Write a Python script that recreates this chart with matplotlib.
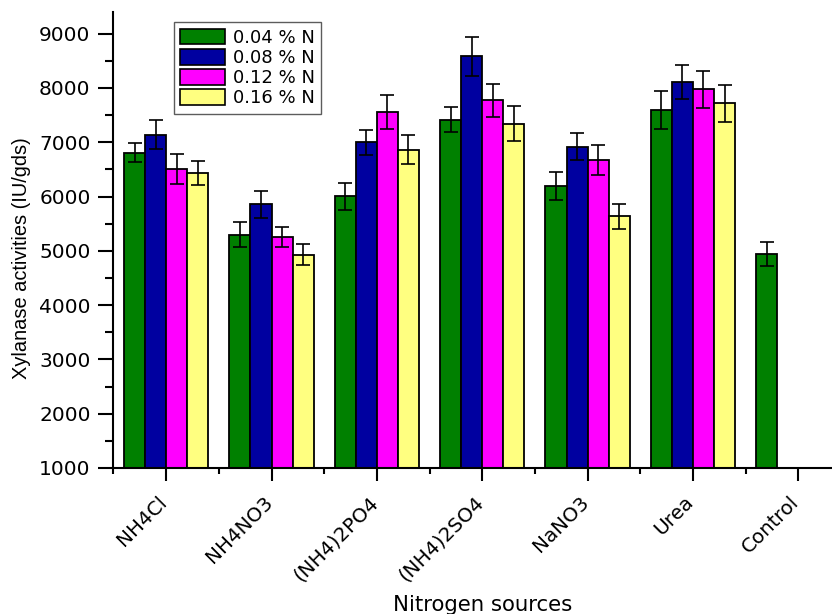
import numpy as np
import matplotlib
matplotlib.use("Agg")
import matplotlib.pyplot as plt
import matplotlib.transforms as mtransforms
from matplotlib.patches import Patch

plt.rcParams['font.family'] = ['Liberation Sans', 'DejaVu Sans']

sources = ["NH4Cl", "NH4NO3", "(NH4)2PO4", "(NH4)2SO4", "NaNO3", "Urea", "Control"]
series_labels = ["0.04 % N", "0.08 % N", "0.12 % N", "0.16 % N"]

# xylanase activity (IU/gds) per nitrogen level; Control only has one value
n004 = [6810, 5300, 6005, 7415, 6186, 7592, 4945]
n008 = [7138, 5854, 6997, 8582, 6917, 8115]
n012 = [6512, 5258, 7549, 7771, 6677, 7973]
n016 = [6438, 4926, 6862, 7341, 5633, 7716]

err004 = [180, 225, 250, 235, 258, 348, 218]
err008 = [265, 250, 224, 360, 245, 310]
err012 = [275, 180, 313, 310, 280, 344]
err016 = [225, 195, 270, 325, 236, 335]

colors = ["#008000", "#0000A0", "#FF00FF", "#FFFF80"]

fig = plt.figure(figsize=(8.32, 6.14), dpi=100)
ax = fig.add_axes([0.1364, 0.2378, 0.8864, 0.7427])

width = 0.2
offsets = [-0.3, -0.1, 0.1, 0.3]
all_vals = [n004, n008, n012, n016]
all_errs = [err004, err008, err012, err016]

for vals, errs, off, col, lab in zip(all_vals, all_errs, offsets, colors, series_labels):
    x = np.arange(1, len(vals) + 1) + off
    ax.bar(x, np.array(vals) - 1000, width=width, bottom=1000, color=col,
           edgecolor="black", linewidth=1.3, label=lab, zorder=2)
    ax.errorbar(x, vals, yerr=errs, fmt="none", ecolor="black",
                elinewidth=1.2, capsize=5, capthick=1.2, zorder=3)

ax.set_xlim(0.5, 7.5)
ax.set_ylim(1000, 9400)
ax.set_yticks(np.arange(1000, 9001, 1000))
ax.set_yticks(np.arange(1500, 9400, 1000), minor=True)
ax.set_xticks(np.arange(1, 8))
ax.set_xticks(np.arange(0.5, 7.6, 1.0), minor=True)
ax.set_xticklabels(sources, rotation=45, ha="right", va="center",
                   rotation_mode="anchor", family="DejaVu Sans", fontsize=14.3)
for lbl in ax.get_yticklabels():
    lbl.set_family("DejaVu Sans")
    lbl.set_fontsize(14.5)

for side in ["top", "right"]:
    ax.spines[side].set_visible(False)
for side in ["left", "bottom"]:
    ax.spines[side].set_linewidth(1.5)

ax.tick_params(axis="y", which="major", direction="out", length=10.5,
               width=1.5, pad=6, colors="black")
ax.tick_params(axis="y", which="minor", direction="out", length=6, width=1.5)
ax.tick_params(axis="x", which="major", direction="out", length=9.5,
               width=1.5, pad=13, colors="black")
ax.tick_params(axis="x", which="minor", direction="out", length=4.5, width=1.5)

# nudge the slanted category names so they end just under their ticks
shift = mtransforms.ScaledTranslation(-1.5 / 72, 0, fig.dpi_scale_trans)
for lbl in ax.get_xticklabels():
    lbl.set_transform(lbl.get_transform() + shift)

ax.set_ylabel("Xylanase activities (IU/gds)", fontsize=14.4)
ax.yaxis.set_label_coords(-0.112, 0.46)
ax.set_xlabel("Nitrogen sources", fontsize=15.3, family="DejaVu Sans")
ax.xaxis.set_label_coords(0.5, -0.279)

handles = [Patch(facecolor=c, edgecolor="black", linewidth=1.2) for c in colors]
leg = ax.legend(handles, series_labels, loc="upper left",
                bbox_to_anchor=(0.082, 0.977),
                prop={"family": "DejaVu Sans", "size": 13}, frameon=True,
                fancybox=False, edgecolor="#333333", handlelength=2.45,
                handleheight=0.95, handletextpad=0.45, labelspacing=0.12,
                borderpad=0.35, borderaxespad=0.0)
leg.get_frame().set_linewidth(1.0)

fig.savefig("out.png", dpi=100)
